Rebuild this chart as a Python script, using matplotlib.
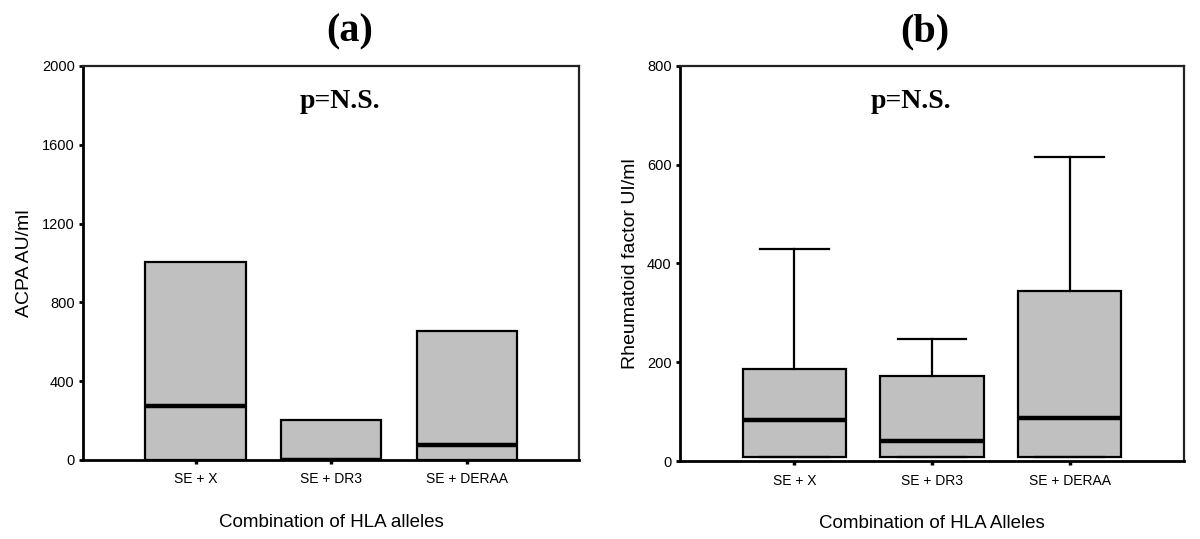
import matplotlib
matplotlib.use("Agg")
import matplotlib.pyplot as plt

categories = ["SE + X", "SE + DR3", "SE + DERAA"]

# Panel (a): ACPA AU/ml  (box: q1, median, q3)
acpa_q1 = [0, 0, 0]
acpa_med = [276, 0, 76]
acpa_q3 = [1005, 203, 655]

# Panel (b): Rheumatoid factor UI/ml
rf_q1 = [9, 9, 9]
rf_med = [83, 40, 88]
rf_q3 = [186, 173, 344]
rf_whishi = [429, 247, 615]

plt.rcParams['font.family'] = ['Liberation Sans', 'DejaVu Sans']

fig = plt.figure(figsize=(12, 5.39), dpi=100)
ax1 = fig.add_axes([0.0692, 0.1466, 0.4136, 0.731])
ax2 = fig.add_axes([0.5667, 0.1447, 0.42, 0.7334])

def make_stats(q1, med, q3, whislo, whishi):
    return [dict(q1=a, med=m, q3=b, whislo=lo, whishi=hi, fliers=[], label=c)
            for a, m, b, lo, hi, c in zip(q1, med, q3, whislo, whishi, categories)]

boxprops = dict(facecolor='#c0c0c0', edgecolor='black', linewidth=1.6)
medprops = dict(color='black', linewidth=3.2)
whisk = dict(color='black', linewidth=1.6)

pos = [1, 2, 3]
ax1.bxp(make_stats(acpa_q1, acpa_med, acpa_q3, acpa_q1, acpa_q3), positions=pos,
        widths=0.74, patch_artist=True, showcaps=False, boxprops=boxprops,
        medianprops=medprops, whiskerprops=whisk)
ax2.bxp(make_stats(rf_q1, rf_med, rf_q3, rf_q1, rf_whishi), positions=pos,
        widths=0.75, capwidths=0.5, patch_artist=True, boxprops=boxprops,
        medianprops=medprops, whiskerprops=whisk, capprops=whisk)

for ax, ylim, yt, ylabel, xlabel, px in [
        (ax1, 2000, [0, 400, 800, 1200, 1600, 2000], "ACPA AU/ml", "Combination of HLA alleles", 0.518),
        (ax2, 800, [0, 200, 400, 600, 800], "Rheumatoid factor UI/ml", "Combination of HLA Alleles", 0.458)]:
    ax.set_xlim(0.17, 3.83)
    ax.set_ylim(0, ylim)
    ax.set_yticks(yt)
    ax.set_xticks(pos)
    ax.set_xticklabels(categories, fontsize=10)
    ax.tick_params(axis='y', labelsize=10.5, length=3, width=2, direction='out', pad=3)
    ax.tick_params(axis='x', length=3, width=2.5, direction='out', pad=6)
    ax.set_ylabel(ylabel, fontsize=14, labelpad=6)
    ax.set_xlabel(xlabel, fontsize=13.5, labelpad=20)
    for s in ['left', 'bottom']:
        ax.spines[s].set_linewidth(2)
    for s in ['top', 'right']:
        ax.spines[s].set_linewidth(1.6)
        ax.spines[s].set_color('#222222')
    ax.text(px, 0.91, "p=N.S.", transform=ax.transAxes, ha='center', va='center',
            fontsize=20, fontweight='bold', family=['Liberation Serif', 'DejaVu Serif'])

fig.text(350 / 1200, 1 - 32 / 539, "(a)", ha='center', va='center', fontsize=29,
         fontweight='bold', family=['Liberation Serif', 'DejaVu Serif'])
fig.text(925 / 1200, 1 - 32 / 539, "(b)", ha='center', va='center', fontsize=29,
         fontweight='bold', family=['Liberation Serif', 'DejaVu Serif'])

fig.savefig("out.png", dpi=100)
